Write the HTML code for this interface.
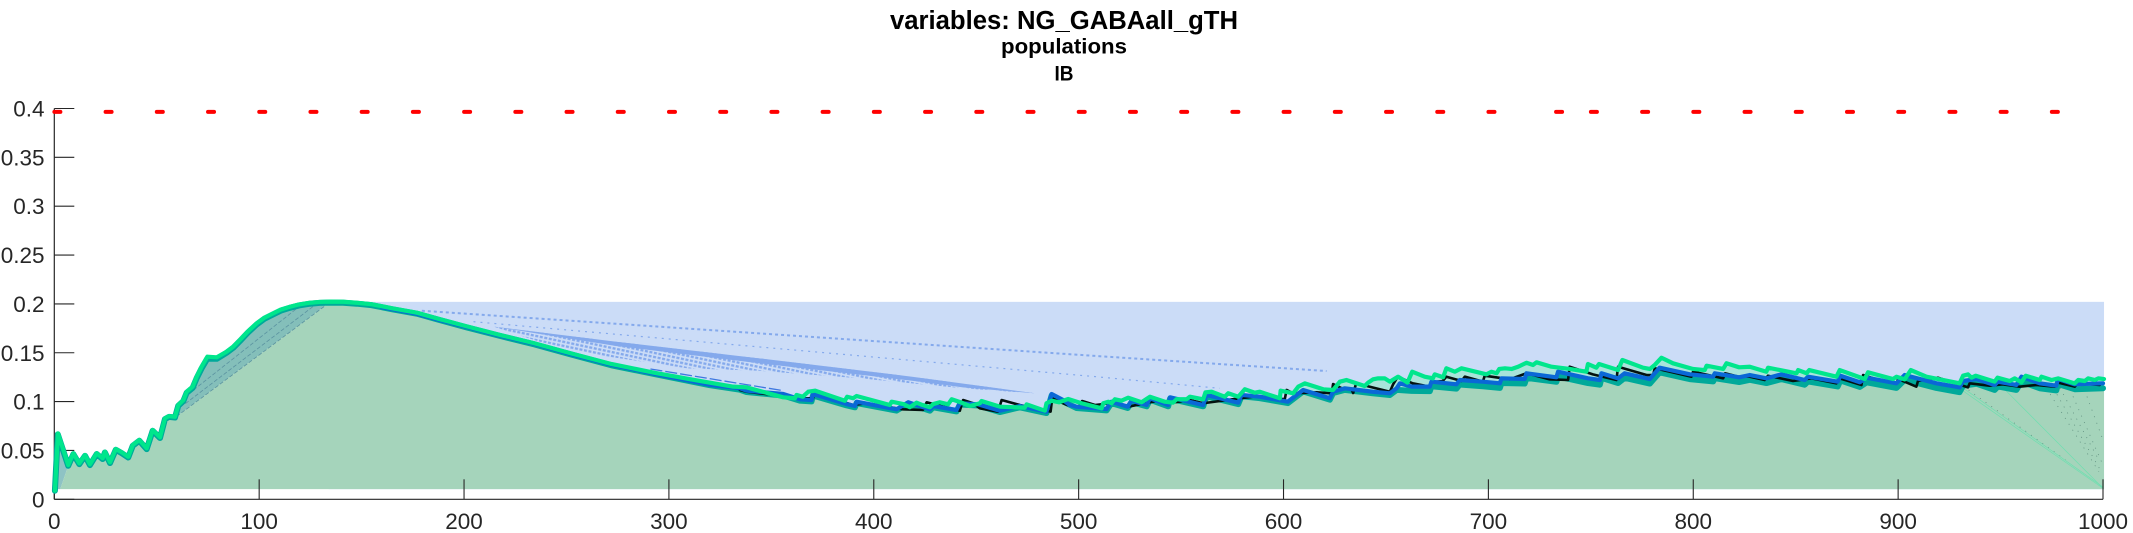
<!DOCTYPE html>
<html lang="en">
<head>
<meta charset="utf-8">
<title>variables: NG_GABAall_gTH</title>
<style>
html,body{margin:0;padding:0;background:#fff;width:2133px;height:533px;overflow:hidden}
svg{display:block}
text{font-family:"Liberation Sans",sans-serif}
</style>
</head>
<body>
<svg id="chart" xmlns="http://www.w3.org/2000/svg" width="2133" height="533" viewBox="0 0 2133 533">
  <defs>
    <pattern id="moire" width="4.6" height="4" patternUnits="userSpaceOnUse" patternTransform="rotate(12)">
      <rect width="3" height="2.3" fill="#84a9ec"/>
    </pattern>
  </defs>
  <rect width="2133" height="533" fill="#fff"/>
  <text x="1064" y="29" text-anchor="middle" font-size="25.5" font-weight="bold" fill="#000" textLength="348" lengthAdjust="spacingAndGlyphs">variables: NG_GABAall_gTH</text>
  <text x="1064" y="53.5" text-anchor="middle" font-size="21.5" font-weight="bold" fill="#000" textLength="126" lengthAdjust="spacingAndGlyphs">populations</text>
  <text x="1064" y="80.5" text-anchor="middle" font-size="21.5" font-weight="bold" fill="#000" textLength="19" lengthAdjust="spacingAndGlyphs">IB</text>
  <g id="fills"></g>
  <g id="axes"></g>
  <g id="series"></g>
</svg>
<script>
// Axis tick values
const xTicks = [0, 100, 200, 300, 400, 500, 600, 700, 800, 900, 1000];
const xTickLabels = ['0', '100', '200', '300', '400', '500', '600', '700', '800', '900', '1000'];
const yTicks = [0, 0.05, 0.1, 0.15, 0.2, 0.25, 0.3, 0.35, 0.4];
const yTickLabels = ['0', '0.05', '0.1', '0.15', '0.2', '0.25', '0.3', '0.35', '0.4'];

// Red event markers
const eventLevel = [0.3966];
const eventTimes = [1.5, 26.5, 51.5, 76.5, 101.5, 126.5, 151.5, 176.5, 201.5, 226.5, 251.5, 276.5, 301.5, 326.5, 351.5, 376.5, 401.5, 426.5, 451.5, 476.5, 501.5, 526.5, 551.5, 576.5, 601.5, 626.5, 651.5, 676.5, 701.5, 734.5, 751.5, 776.5, 801.5, 826.5, 851.5, 876.5, 901.5, 926.5, 951.5, 976.5];

// Shaded band extents
const bandFloor = [0.0104];
const bandCeiling = [0.2021];
const bandStart = [134];
const bandEnd = [1000.5];

// Bright green series
const greenTimes = [0.3, 1.8, 6.8, 9.3, 12.2, 15, 17.4, 20.7, 23.6, 24.7, 27.2, 30, 32.9, 36.1, 38.3, 41.5, 45.1, 48, 51.6, 54, 56, 58.9, 60.5, 63, 64.6, 67.5, 69.5, 71.9, 74.7, 79.3, 84.1, 87.5, 90.6, 94.5, 98.8, 102.5, 106.9, 110.5, 115, 119.5, 124.8, 129.5, 134.6, 141, 147.6, 154.8, 165, 176.9, 188, 201.2, 217, 234.3, 252, 271.9, 293, 315.1, 331.4, 337.9, 355.8, 361.5, 362.3, 365.4, 368, 371.3, 385.9, 387, 389.9, 391.6, 407.8, 408.7, 414.4, 417.6, 420.9, 423.8, 427.4, 429, 432.2, 436.3, 438, 442.9, 446.9, 451.8, 452.6, 461.5, 473.7, 474.6, 483.5, 484.3, 486.8, 490.5, 494.9, 501.4, 511.2, 512, 514.5, 516, 517.7, 520.9, 524.2, 530.7, 534.8, 542.1, 546.1, 547.8, 552.7, 554.3, 560.8, 561.9, 564.9, 571.3, 573, 577.9, 581.1, 586, 588.4, 598.2, 598.6, 604.7, 607.2, 610.4, 619.4, 624.2, 627.5, 630.7, 639.6, 641.3, 643.7, 646.2, 649.4, 651.9, 655.9, 660.5, 662.8, 668.9, 672.9, 673.8, 677.9, 679.5, 683.6, 686.9, 699, 701.5, 704, 705.3, 708.1, 711.3, 714.5, 718.6, 721.8, 723.5, 730.8, 739.7, 747.8, 748.6, 752.7, 754, 763.3, 765.4, 775.5, 778.8, 781.2, 784.5, 790.1, 799.9, 805.6, 806.5, 814.6, 816.2, 822.4, 827.6, 835.7, 836.5, 850.4, 851.2, 855.3, 856.6, 869.9, 871.5, 883.7, 885.3, 897.5, 899.2, 903.2, 906.2, 913.8, 930, 931.7, 934.1, 935.8, 937.9, 947.1, 948.5, 954.5, 956.9, 960.2, 962.3, 969.1, 970, 974.9, 978.1, 986.2, 987.9, 991.1, 992.8, 996, 997.7, 1000.5];
const greenValues = [0.0088, 0.0675, 0.0351, 0.0471, 0.0368, 0.0453, 0.0358, 0.0471, 0.042, 0.0487, 0.0379, 0.0515, 0.0481, 0.0436, 0.0556, 0.0607, 0.0522, 0.0709, 0.0635, 0.0829, 0.0852, 0.0845, 0.0965, 0.1016, 0.1101, 0.1153, 0.1255, 0.1357, 0.146, 0.1453, 0.1511, 0.1565, 0.1631, 0.1718, 0.1801, 0.1858, 0.1904, 0.1942, 0.1971, 0.1995, 0.2012, 0.202, 0.2023, 0.2022, 0.2012, 0.1997, 0.1955, 0.191, 0.1845, 0.1771, 0.1685, 0.1597, 0.1495, 0.1385, 0.1295, 0.1211, 0.1153, 0.1146, 0.1044, 0.1034, 0.1068, 0.105, 0.1101, 0.1112, 0.1009, 0.105, 0.1034, 0.1057, 0.0965, 0.0999, 0.0975, 0.0942, 0.0989, 0.0965, 0.0942, 0.0975, 0.0993, 0.0972, 0.1024, 0.0989, 0.0955, 0.0983, 0.1006, 0.0948, 0.0938, 0.0972, 0.0907, 0.0983, 0.1009, 0.0993, 0.1027, 0.0983, 0.0931, 0.0983, 0.0999, 0.0983, 0.1024, 0.1009, 0.104, 0.0993, 0.105, 0.0999, 0.0989, 0.1024, 0.1024, 0.105, 0.1024, 0.1095, 0.1101, 0.105, 0.1085, 0.105, 0.1126, 0.1091, 0.1101, 0.1034, 0.1112, 0.1085, 0.1153, 0.1187, 0.1126, 0.1119, 0.1204, 0.1221, 0.116, 0.1194, 0.1228, 0.1238, 0.1238, 0.1204, 0.1255, 0.1195, 0.1306, 0.1255, 0.1238, 0.1279, 0.1249, 0.1341, 0.1306, 0.1341, 0.1279, 0.1306, 0.129, 0.1334, 0.1341, 0.1334, 0.1357, 0.1398, 0.1375, 0.1402, 0.1357, 0.1334, 0.1306, 0.1385, 0.1347, 0.1385, 0.1323, 0.1426, 0.1347, 0.1334, 0.1375, 0.1449, 0.1392, 0.1334, 0.1323, 0.1367, 0.1334, 0.1392, 0.1351, 0.1357, 0.1306, 0.1347, 0.129, 0.1323, 0.129, 0.1323, 0.1255, 0.1323, 0.1231, 0.13, 0.1231, 0.1255, 0.1228, 0.1323, 0.1255, 0.1187, 0.1265, 0.1279, 0.1245, 0.1265, 0.1204, 0.1245, 0.1211, 0.1238, 0.1198, 0.1265, 0.1221, 0.1255, 0.1221, 0.1238, 0.1187, 0.1221, 0.1211, 0.1238, 0.1221, 0.1238, 0.1231];

// Blue series
const blueTimes = [160, 176.9, 188, 201.2, 217, 234.3, 252, 271.9, 293, 320, 334.6, 337.9, 355.8, 363.9, 369.6, 370.3, 386.7, 390.8, 391.6, 411.1, 416.8, 427.4, 429, 440.4, 442, 451, 461.5, 471.3, 484.3, 486.8, 492.4, 495.7, 498.9, 513.6, 516, 524, 525.8, 533.2, 534.8, 543.7, 544.6, 560.8, 562.4, 577.9, 579.5, 588.4, 602.1, 609.6, 622.6, 624.2, 629.9, 643.6, 651.9, 655.2, 656.8, 662.5, 671.4, 672.2, 684.4, 686, 697.3, 705.6, 706.4, 717.7, 718.6, 733.2, 734, 748.6, 754.4, 755.2, 763.3, 766.5, 778.8, 781.2, 783.6, 798.3, 809.7, 810.5, 822.4, 827.6, 835.7, 843, 854.4, 856, 870.5, 871.8, 881.3, 884.6, 899.2, 903.2, 906.2, 918.7, 930, 931.7, 938.2, 947.1, 948.7, 957.7, 960.2, 969.1, 977.2, 978, 986.2, 1000];
const blueValues = [0.1965, 0.19, 0.1835, 0.1765, 0.1678, 0.1592, 0.1488, 0.1378, 0.1285, 0.1172, 0.1136, 0.1112, 0.1078, 0.1024, 0.1016, 0.1078, 0.0975, 0.0955, 0.0999, 0.0921, 0.0993, 0.0921, 0.0955, 0.0914, 0.0983, 0.0972, 0.0907, 0.0955, 0.0897, 0.1078, 0.1016, 0.0965, 0.0948, 0.0924, 0.0999, 0.0948, 0.1009, 0.0965, 0.1034, 0.0965, 0.1044, 0.0965, 0.1068, 0.0989, 0.1068, 0.105, 0.0999, 0.1119, 0.1034, 0.1101, 0.1136, 0.1101, 0.1085, 0.1136, 0.1187, 0.1153, 0.1153, 0.1204, 0.1177, 0.1221, 0.1204, 0.1187, 0.1238, 0.1231, 0.129, 0.1249, 0.1306, 0.1238, 0.1221, 0.129, 0.1238, 0.129, 0.1231, 0.129, 0.1347, 0.1279, 0.1255, 0.129, 0.1249, 0.1272, 0.1238, 0.1279, 0.1221, 0.1255, 0.1204, 0.1265, 0.1198, 0.1245, 0.1187, 0.1272, 0.1255, 0.1187, 0.1146, 0.1211, 0.1231, 0.117, 0.1204, 0.117, 0.1255, 0.1187, 0.1163, 0.1231, 0.1177, 0.1187];

// Teal series
const tealTimes = [0.3, 1.7, 6.8, 9.3, 12.2, 15, 17.4, 20.7, 23.6, 24.7, 27.2, 30, 32.9, 36.1, 38.3, 41.5, 45.1, 48, 51.6, 54, 56, 58.9, 60.5, 63, 64.6, 67.5, 69.5, 71.9, 74.7, 79.3, 84.1, 87.5, 90.6, 94.5, 98.8, 102.5, 106.9, 110.5, 115, 119.5, 124.8, 129.5, 134.6, 141, 147.6, 154.8, 165, 176.9, 188, 201.2, 217, 234.3, 252, 271.9, 293, 320, 334.6, 337.9, 355.8, 363.9, 369.6, 370.3, 386.7, 390.8, 391.6, 411.1, 416.8, 427.4, 429, 440.4, 442, 451, 461.5, 471.3, 484.3, 486.8, 492.4, 498.9, 513.6, 516, 524, 525.8, 533.2, 534.8, 543.7, 544.6, 560.8, 562.4, 577.9, 579.5, 588.4, 602.1, 609.6, 622.6, 624.2, 629.9, 643.6, 651.9, 655.2, 662.5, 671.4, 672.2, 684.4, 686, 697.3, 705.6, 706.4, 717.7, 718.6, 733.2, 734, 748.6, 754.4, 755.2, 763.3, 766.5, 778.8, 781.2, 783.6, 798.3, 809.7, 810.5, 822.4, 827.6, 835.7, 843, 854.4, 856, 870.5, 871.8, 881.3, 884.6, 899.2, 903.2, 906.2, 918.7, 930, 931.7, 938.2, 947.1, 948.7, 957.7, 960.2, 969.1, 977.2, 978, 986.2, 1000];
const tealValues = [0.0088, 0.0665, 0.0343, 0.0462, 0.036, 0.0445, 0.035, 0.0463, 0.0412, 0.0479, 0.0371, 0.0507, 0.0473, 0.0428, 0.0548, 0.0599, 0.0514, 0.0701, 0.0627, 0.0821, 0.0844, 0.0837, 0.0957, 0.1006, 0.109, 0.114, 0.124, 0.134, 0.144, 0.1438, 0.15, 0.1554, 0.162, 0.1707, 0.179, 0.1847, 0.1893, 0.1931, 0.196, 0.1984, 0.2002, 0.201, 0.2013, 0.2012, 0.2002, 0.1987, 0.1945, 0.19, 0.1835, 0.176, 0.1675, 0.1586, 0.1484, 0.1372, 0.1282, 0.1168, 0.1122, 0.1098, 0.1062, 0.101, 0.1002, 0.1062, 0.0962, 0.0942, 0.0985, 0.0908, 0.098, 0.0908, 0.0942, 0.09, 0.097, 0.096, 0.0893, 0.0942, 0.0883, 0.1062, 0.1002, 0.0935, 0.091, 0.0985, 0.0935, 0.0995, 0.0952, 0.102, 0.0952, 0.103, 0.0952, 0.1055, 0.0975, 0.1055, 0.1035, 0.0985, 0.1105, 0.102, 0.1088, 0.112, 0.1085, 0.1068, 0.112, 0.111, 0.1107, 0.1157, 0.1133, 0.1175, 0.1157, 0.114, 0.119, 0.1185, 0.1243, 0.1203, 0.1257, 0.119, 0.1173, 0.1243, 0.119, 0.1243, 0.1185, 0.1243, 0.13, 0.123, 0.1207, 0.124, 0.12, 0.1223, 0.119, 0.123, 0.1173, 0.1207, 0.1155, 0.1217, 0.115, 0.1197, 0.114, 0.1223, 0.1207, 0.114, 0.1097, 0.1163, 0.1183, 0.112, 0.1155, 0.112, 0.1205, 0.1137, 0.1115, 0.118, 0.1127, 0.1137];

// Black series
const blackTimes = [334.6, 337.9, 365.4, 370.3, 371.3, 389.9, 396.5, 411.1, 414.3, 424, 425.8, 442, 443.6, 448.5, 451.8, 460.7, 462.4, 471.3, 486.3, 487.1, 494.4, 500, 501.7, 508, 517.7, 524.2, 538.7, 543.8, 554.3, 560.8, 578.7, 587.5, 600.6, 601.5, 604.7, 616.1, 623.5, 624.2, 629.2, 633.1, 634, 635.5, 651.9, 653.5, 655.8, 663, 671.4, 672.2, 677.7, 679.5, 686.9, 688.5, 697.3, 698.2, 710.4, 718.6, 729.9, 738.9, 739.7, 751, 762.5, 763.3, 777.2, 780.4, 781.2, 791.8, 799.1, 799.9, 814.6, 815.5, 821.9, 827.6, 834.9, 836.5, 848.7, 857.7, 869.9, 871.5, 882.1, 882.9, 891.8, 899.2, 900, 908.9, 909.7, 919.3, 934.1, 934.9, 944.6, 951, 959.3, 967.5, 976.5, 977.3, 986.2, 987.8, 998.4];
const blackValues = [0.1119, 0.1101, 0.1034, 0.1034, 0.1085, 0.0965, 0.0983, 0.0931, 0.0921, 0.0914, 0.0993, 0.0907, 0.1016, 0.0983, 0.0931, 0.0897, 0.1016, 0.0965, 0.0897, 0.1034, 0.0965, 0.0942, 0.1006, 0.0965, 0.0989, 0.0948, 0.1009, 0.0983, 0.1016, 0.0983, 0.1034, 0.1057, 0.1024, 0.1119, 0.1085, 0.1095, 0.1085, 0.118, 0.1129, 0.1126, 0.1088, 0.1187, 0.1101, 0.1177, 0.1255, 0.1187, 0.1153, 0.1198, 0.1211, 0.1255, 0.1211, 0.1255, 0.1204, 0.1265, 0.1228, 0.129, 0.1228, 0.1221, 0.1357, 0.1279, 0.1221, 0.1357, 0.1272, 0.1272, 0.1341, 0.129, 0.1255, 0.1306, 0.1238, 0.129, 0.1255, 0.1255, 0.1221, 0.1265, 0.1211, 0.1238, 0.1187, 0.1238, 0.117, 0.1272, 0.1211, 0.1187, 0.1231, 0.1153, 0.1211, 0.1245, 0.1146, 0.1187, 0.1163, 0.1177, 0.1153, 0.117, 0.1153, 0.1198, 0.1153, 0.1187, 0.117];

// Blue fan artefacts
const fanUpperTimes = [214.5, 274.3, 344, 418.7, 478.5];
const fanUpperValues = [0.1767, 0.1613, 0.1443, 0.1255, 0.1085];
const fanLowerTimes = [443.5, 393.7, 344, 309.2, 281.7, 259.4, 236.9];
const fanLowerValues = [0.1136, 0.1238, 0.1316, 0.134, 0.1426, 0.1494, 0.1613];
const fanBandTimes = [443.5, 418.7, 344, 274.3];
const fanBandValues = [0.1145, 0.1214, 0.1392, 0.1569];
const dottedATimes = [179.4, 508.4, 621];
const dottedAValues = [0.193, 0.1467, 0.1313];
const dottedBTimes = [204.6, 508.4, 568.9];
const dottedBValues = [0.1818, 0.1255, 0.1136];
const dashedDTimes = [291, 355.8];
const dashedDValues = [0.1334, 0.1112];

// Chords on the rising side
const chordStartTimes = [59.7, 64, 68];
const chordStartValues = [0.0848, 0.098, 0.112];
const chordEndTimes = [133.7, 128, 120];
const chordEndValues = [0.2004, 0.2, 0.198];

// Fan lines on the right edge
const fadeGreenStartTimes = [952.3, 931, 932];
const fadeGreenStartValues = [0.1119, 0.1119, 0.1135];
const fadeGreenEndTimes = [1000, 1000, 1000];
const fadeGreenEndValues = [0.0113, 0.0113, 0.0125];
const fadeGrayStartTimes = [934.4, 972.4, 975.8, 979, 984, 991];
const fadeGrayStartValues = [0.1119, 0.1136, 0.1136, 0.114, 0.1119, 0.1119];
const fadeGrayEndTimes = [981.7, 998, 998.7, 998, 999.5, 1000];
const fadeGrayEndValues = [0.0402, 0.0282, 0.03, 0.04, 0.0373, 0.0607];

const NS = 'http://www.w3.org/2000/svg';
function X(t) { return 54.3 + t * 2.0487; }
function Y(v) { return 499.3 - v * 977; }
function mk(parent, tag, attrs) {
  const el = document.createElementNS(NS, tag);
  for (const k in attrs) el.setAttribute(k, attrs[k]);
  parent.appendChild(el);
  return el;
}
function pts(ts, vs) {
  const n = Math.min(ts.length, vs.length);
  const out = [];
  for (let i = 0; i < n; i++) out.push(X(ts[i]).toFixed(2) + ',' + Y(vs[i]).toFixed(2));
  return out;
}
function between(ts, vs, a, b) {
  const n = Math.min(ts.length, vs.length);
  const rt = [], rv = [];
  for (let i = 0; i < n; i++) if (ts[i] >= a && ts[i] <= b) { rt.push(ts[i]); rv.push(vs[i]); }
  return pts(rt, rv);
}
const fills = document.getElementById('fills');
const axes = document.getElementById('axes');
const series = document.getElementById('series');
const floorV = bandFloor[0];

// Blue background band
const band = mk(fills, 'rect', { x: X(bandStart[0]), y: Y(bandCeiling[0]), width: X(bandEnd[0]) - X(bandStart[0]), height: Y(floorV) - Y(bandCeiling[0]), fill: '#cbdcf7' });



// Moire fan
const fanPoly = pts(fanUpperTimes, fanUpperValues).concat(pts(fanLowerTimes, fanLowerValues));
const fan = mk(fills, 'polygon', { points: fanPoly.join(' '), fill: 'url(#moire)' });


const fanBandPoly = pts(fanUpperTimes, fanUpperValues).concat(pts(fanBandTimes, fanBandValues));
const fanBand = mk(fills, 'polygon', { points: fanBandPoly.join(' '), fill: '#84a9ec' });



const dottedA = mk(fills, 'polyline', { points: pts(dottedATimes, dottedAValues).join(' '), fill: 'none', stroke: '#84a9ec', 'stroke-width': 2, 'stroke-dasharray': '3 3' });


const dottedB = mk(fills, 'polyline', { points: pts(dottedBTimes, dottedBValues).join(' '), fill: 'none', stroke: '#84a9ec', 'stroke-width': 1.2, 'stroke-dasharray': '2 5' });


const dashedD = mk(fills, 'polyline', { points: pts(dashedDTimes, dashedDValues).join(' '), fill: 'none', stroke: '#3f78e0', 'stroke-width': 1.3, 'stroke-dasharray': '12 3' });



// Light teal gap between the green line and the lower traces
const gapPoly = between(greenTimes, greenValues, 600, 1001);
gapPoly.unshift(X(600) + ',' + Y(floorV));
gapPoly.push(X(bandEnd[0]) + ',' + Y(floorV));
const gap = mk(fills, 'polygon', { points: gapPoly.join(' '), fill: '#a8e4da' });



// Rising wedge between the curve and its chord
const wedgeCurve = between(tealTimes, tealValues, chordStartTimes[0], chordEndTimes[0] + 1);
const wedgePts = [X(chordStartTimes[0]) + ',' + Y(chordStartValues[0])].concat(wedgeCurve, [X(chordEndTimes[0]) + ',' + Y(chordEndValues[0])]);
const wedge = mk(fills, 'polygon', { points: wedgePts.join(' '), fill: '#84bfba' });



// Small wedge at the start
const startWedge = mk(fills, 'polygon', { points: [X(tealTimes[1]) + ',' + Y(tealValues[1]), X(tealTimes[2]) + ',' + Y(tealValues[2]), X(tealTimes[1] + 1.2) + ',' + Y(floorV), X(tealTimes[1]) + ',' + Y(floorV)].join(' '), fill: '#8ec3c4' });



// Main green area
const areaPts = [X(tealTimes[1] + 1.2) + ',' + Y(floorV)];
const areaRise = between(tealTimes, tealValues, tealTimes[2], chordStartTimes[0]);
const areaFall = between(tealTimes, tealValues, chordEndTimes[0], 1001);
const mainPoly = areaPts.concat(areaRise, [X(chordStartTimes[0]) + ',' + Y(chordStartValues[0]), X(chordEndTimes[0]) + ',' + Y(chordEndValues[0])], areaFall, [X(bandEnd[0]) + ',' + Y(tealValues[tealValues.length - 1]), X(bandEnd[0]) + ',' + Y(floorV)]);
const mainArea = mk(fills, 'polygon', { points: mainPoly.join(' '), fill: '#a5d4bb' });



// Chord lines
chordStartTimes.forEach(function (t, i) {
  const c = mk(fills, 'line', { x1: X(t), y1: Y(chordStartValues[i]), x2: X(chordEndTimes[i]), y2: Y(chordEndValues[i]), stroke: '#5b93a0', 'stroke-width': 0.8, 'stroke-dasharray': '4 2' });
  
  
});

// Right edge fades
fadeGrayStartTimes.forEach(function (t, i) {
  const c = mk(fills, 'line', { x1: X(t), y1: Y(fadeGrayStartValues[i]), x2: X(fadeGrayEndTimes[i]), y2: Y(fadeGrayEndValues[i]), stroke: '#5f8f7f', 'stroke-width': 0.8, 'stroke-dasharray': '1 6' });
  
  
});
fadeGreenStartTimes.forEach(function (t, i) {
  const c = mk(fills, 'line', { x1: X(t), y1: Y(fadeGreenStartValues[i]), x2: X(fadeGreenEndTimes[i]), y2: Y(fadeGreenEndValues[i]), stroke: '#6fdfb0', 'stroke-width': 0.7 });
  
  
});

// Axes
const yAxis = mk(axes, 'line', { x1: 54.3, y1: Y(0), x2: 54.3, y2: Y(0.4), stroke: '#262626', 'stroke-width': 1.2 });


const xAxis = mk(axes, 'line', { x1: X(0), y1: Y(0), x2: X(1000), y2: Y(0), stroke: '#262626', 'stroke-width': 1.2 });


xTicks.forEach(function (t, i) {
  const tick = mk(axes, 'line', { x1: X(t), y1: Y(0), x2: X(t), y2: Y(0) - 20, stroke: '#262626', 'stroke-width': 1.1 });
  
  
  const label = mk(axes, 'text', { x: X(t), y: 529, 'text-anchor': 'middle', 'font-size': 22.5, fill: '#262626' });
  label.textContent = xTickLabels[i];
  
  
});
yTicks.forEach(function (v, i) {
  const tick = mk(axes, 'line', { x1: X(0), y1: Y(v), x2: X(0) + 20, y2: Y(v), stroke: '#262626', 'stroke-width': 1.1 });
  
  
  const label = mk(axes, 'text', { x: 44.5, y: Y(v) + 8, 'text-anchor': 'end', 'font-size': 22.5, fill: '#262626' });
  label.textContent = yTickLabels[i];
  
  
});

// Event markers
eventTimes.forEach(function (t) {
  const m = mk(series, 'line', { x1: X(t) - 3, y1: Y(eventLevel[0]), x2: X(t) + 3, y2: Y(eventLevel[0]), stroke: '#ff0000', 'stroke-width': 4, 'stroke-linecap': 'round' });
  
  
});

// Traces: black sits under blue so it only shows in patches where it leaves the blue trace
const lineStyle = { fill: 'none', 'stroke-linejoin': 'round', 'stroke-linecap': 'round' };
function trace(ts, vs, color, width) {
  const attrs = Object.assign({ points: pts(ts, vs).join(' '), stroke: color, 'stroke-width': width }, lineStyle);
  return mk(series, 'polyline', attrs);
}
const tealLine = trace(tealTimes, tealValues, '#00a99a', 6);


const blackLine = trace(blackTimes, blackValues, '#04120f', 2.6);


const blueLine = trace(blueTimes, blueValues, '#0a68d6', 4.2);


const greenLine = trace(greenTimes, greenValues, '#00e68c', 4.2);


</script>
</body>
</html>
